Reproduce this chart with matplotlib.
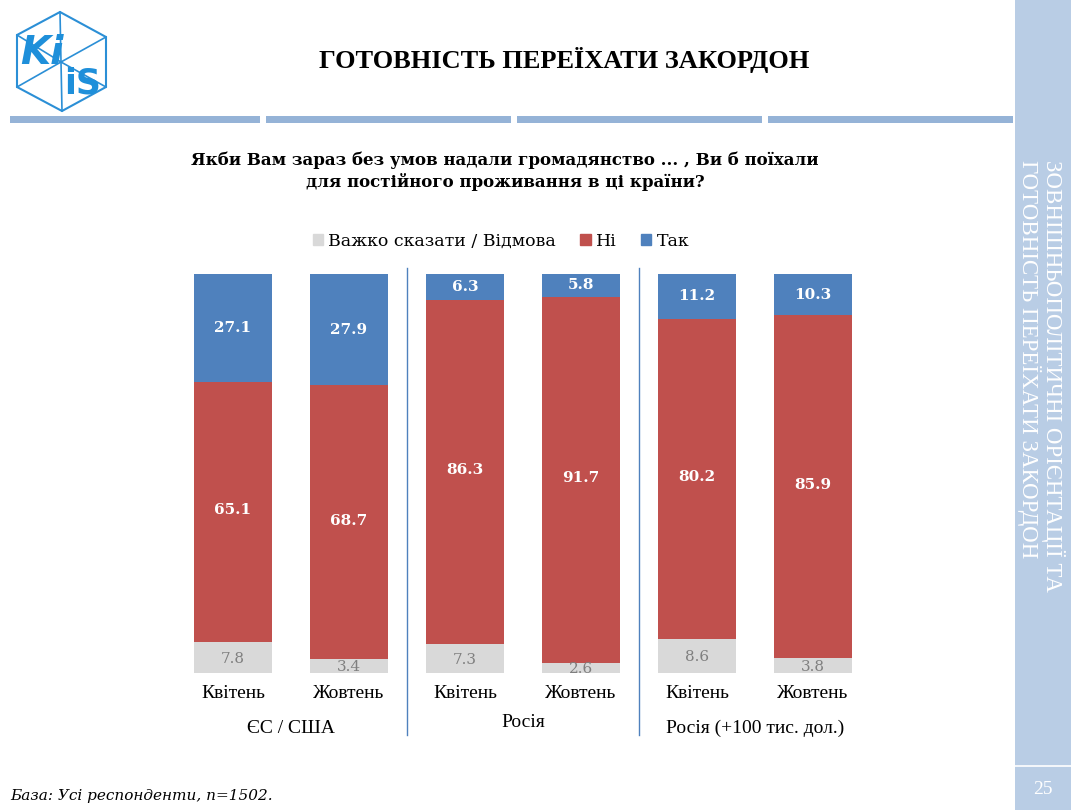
import matplotlib
matplotlib.use('Agg')
import matplotlib.pyplot as plt
from matplotlib.patches import Rectangle, Patch, Polygon
from matplotlib.lines import Line2D
import matplotlib.transforms as mtransforms

# data
months = ['Квітень', 'Жовтень', 'Квітень', 'Жовтень', 'Квітень', 'Жовтень']
groups = ['ЄС / США', 'Росія', 'Росія (+100 тис. дол.)']
hard_to_say = [7.8, 3.4, 7.3, 2.6, 8.6, 3.8]
no = [65.1, 68.7, 86.3, 91.7, 80.2, 85.9]
yes = [27.1, 27.9, 6.3, 5.8, 11.2, 10.3]
series_names = ['Важко сказати / Відмова', 'Ні', 'Так']

c_gray = '#D9D9D9'
c_red = '#C0504D'
c_blue = '#4F81BD'

W, H = 1071, 810
fig = plt.figure(figsize=(W / 100, H / 100), dpi=100)
fig.patch.set_facecolor('white')


def fx(x):
    return x / W


def fy(y):
    return 1 - y / H


# chart axes
ax = fig.add_axes([fx(175), fy(673), fx(871) - fx(175), fy(274) - fy(673)])
x = list(range(len(months)))
bw = 0.67
ax.bar(x, hard_to_say, bw, color=c_gray)
ax.bar(x, no, bw, bottom=hard_to_say, color=c_red)
bottom_yes = [a + b for a, b in zip(hard_to_say, no)]
ax.bar(x, yes, bw, bottom=bottom_yes, color=c_blue)

for i in x:
    ax.text(i, hard_to_say[i] / 2 - 0.3, f'{hard_to_say[i]:.1f}', ha='center', va='center',
            color='#7F7F7F', fontsize=11, family='DejaVu Serif')
    ax.text(i, hard_to_say[i] + no[i] / 2 + 0.4, f'{no[i]:.1f}', ha='center', va='center',
            color='white', fontsize=11, fontweight='bold', family='DejaVu Serif')
    ax.text(i, bottom_yes[i] + yes[i] / 2, f'{yes[i]:.1f}', ha='center', va='center',
            color='white', fontsize=11, fontweight='bold', family='DejaVu Serif')

ax.set_xlim(-0.5, 5.5)
ax.set_ylim(0, 100)
ax.set_xticks(x)
ax.set_xticklabels(months, fontsize=14, family='Liberation Serif')
ax.tick_params(axis='x', length=0, pad=9)
ax.set_yticks([])
for s in ax.spines.values():
    s.set_visible(False)

for xs in [1.5, 3.5]:
    ax.axvline(xs, ymin=-0.155, ymax=1.015, color=c_blue, lw=1, clip_on=False)

trans = mtransforms.blended_transform_factory(ax.transData, ax.transAxes)
group_y = [-0.138, -0.125, -0.138]
for g, name in enumerate(groups):
    ax.text(2 * g + 0.5, group_y[g], name, transform=trans, ha='center', va='center',
            fontsize=14, family='Liberation Serif')

# legend
handles = [Patch(color=c_gray), Patch(color=c_red), Patch(color=c_blue)]
fig.legend(handles, series_names, loc='center', bbox_to_anchor=(fx(501), fy(241)), ncol=3,
           frameon=False, handlelength=0.6, handleheight=0.6, handletextpad=0.3,
           columnspacing=1.4, prop={'family': 'DejaVu Serif', 'size': 12.5})

# titles
fig.text(fx(564), fy(60), 'ГОТОВНІСТЬ ПЕРЕЇХАТИ ЗАКОРДОН', ha='center', va='center',
         fontsize=19, fontweight='bold', family='Liberation Serif')
fig.text(fx(505), fy(171), 'Якби Вам зараз без умов надали громадянство ... , Ви б поїхали\n'
         'для постійного проживання в ці країни?', ha='center', va='center',
         fontsize=12, fontweight='bold', family='DejaVu Serif', linespacing=1.3)

# strips under the title
for x0, x1 in [(10, 260), (266, 511), (517, 762), (768, 1013)]:
    fig.patches.append(Rectangle((fx(x0), fy(123)), fx(x1) - fx(x0), fy(116) - fy(123),
                                 transform=fig.transFigure, color='#95B3D7', lw=0))

# sidebar
fig.patches.append(Rectangle((fx(1015), 0), 1 - fx(1015), 1, transform=fig.transFigure,
                             color='#B9CDE5', lw=0))
fig.lines.append(Line2D([fx(1015), 1], [fy(766), fy(766)], transform=fig.transFigure,
                        color='white', lw=1.2))
fig.text(fx(1043), fy(790), '25', ha='center', va='center', color='white', fontsize=14,
         family='Liberation Serif')
fig.text(fx(1041), fy(160), 'ЗОВНІШНЬОПОЛІТИЧНІ ОРІЄНТАЦІЇ ТА\nГОТОВНІСТЬ ПЕРЕЇХАТИ ЗАКОРДОН',
         rotation=270, ha='center', va='top', color='white', fontsize=16.5,
         family='Liberation Serif', multialignment='left', linespacing=0.95)

# logo (cube with letters)
cx, cy = 61, 62
hexv = [(60, 12), (106, 37), (106, 87), (62, 111), (17, 87), (17, 35)]
fig.patches.append(Polygon([(fx(a), fy(b)) for a, b in hexv], closed=True, fill=False,
                           transform=fig.transFigure, edgecolor='#2B8FD6', lw=1.5))
for a, b in hexv:
    fig.lines.append(Line2D([fx(cx), fx(a)], [fy(cy), fy(b)], transform=fig.transFigure,
                            color='#2B8FD6', lw=1.2))
fig.text(fx(42), fy(53), 'Ki', ha='center', va='center', color='#1E8FDA', fontsize=28,
         fontweight='bold', style='italic', family='DejaVu Sans')
fig.text(fx(83), fy(84), 'iS', ha='center', va='center', color='#1E8FDA', fontsize=25,
         fontweight='bold', family='DejaVu Sans')

# footer
fig.text(fx(10), fy(796), 'База: Усі респонденти, n=1502.', ha='left', va='center',
         fontsize=11, style='italic', family='DejaVu Serif')

fig.savefig('out.png', dpi=100)
